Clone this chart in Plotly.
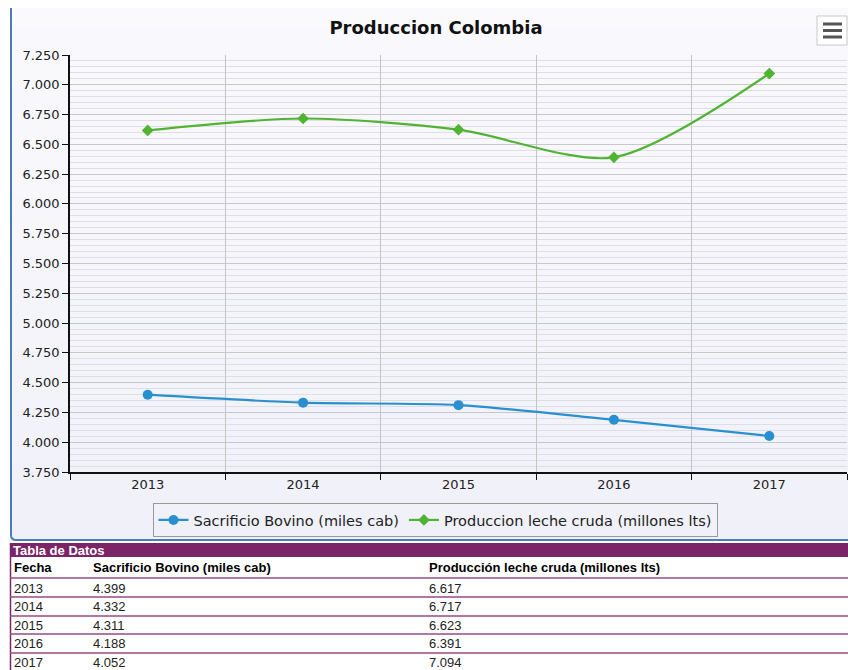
import plotly.graph_objects as go

# ---- data ----
years = ["2013", "2014", "2015", "2016", "2017"]
sacrificio = [4399, 4332, 4311, 4188, 4052]
leche = [6617, 6717, 6623, 6391, 7094]
series_names = ["Sacrificio Bovino (miles cab)", "Produccion leche cruda (millones lts)"]
table_headers = ["Fecha", "Sacrificio Bovino (miles cab)", "Producción leche cruda (millones lts)"]
title_text = "Produccion Colombia"
table_title = "Tabla de Datos"

W, H = 848, 670
L, R, T, B = 70, 847, 55, 472  # plot area in pixels

def px(x):
    return (x - L) / (R - L)

def py(y):
    return (B - y) / (B - T)

def fmt(v):
    s = f"{v:,d}"
    return s.replace(",", ".")

BLUE = "#2a8fd0"
GREEN = "#50B432"
PURPLE = "#7b2467"

fig = go.Figure()
fig.add_trace(go.Scatter(
    x=years, y=sacrificio, name=series_names[0], mode="lines+markers",
    line=dict(color=BLUE, width=2.2, shape="spline", smoothing=0.8),
    marker=dict(symbol="circle", size=10, color=BLUE)))
fig.add_trace(go.Scatter(
    x=years, y=leche, name=series_names[1], mode="lines+markers",
    line=dict(color=GREEN, width=2.2, shape="spline", smoothing=0.8),
    marker=dict(symbol="diamond", size=9, color=GREEN)))

shapes = []
# background gradient panel (bands)
top_c = (250, 250, 253)
bot_c = (240, 240, 249)
y0p, y1p = 8, 540
nb = 28
for i in range(nb):
    ya = y0p + (y1p - y0p) * i / nb
    yb = y0p + (y1p - y0p) * (i + 1) / nb
    t = (i + 0.5) / nb
    c = tuple(int(round(top_c[k] + (bot_c[k] - top_c[k]) * t)) for k in range(3))
    shapes.append(dict(type="rect", xref="paper", yref="paper",
                       x0=px(11), x1=px(848), y0=py(yb), y1=py(ya),
                       fillcolor=f"rgb{c}", line=dict(width=0), layer="below"))
# panel border (left + bottom with rounded corner)
path = (f"M {px(11)},{py(8)} L {px(11)},{py(535)} "
        f"Q {px(11)},{py(540)} {px(16)},{py(540)} L {px(848)},{py(540)}")
shapes.append(dict(type="path", xref="paper", yref="paper", path=path,
                   line=dict(color="#4a7db3", width=2), layer="above"))
# menu button
shapes.append(dict(type="rect", xref="paper", yref="paper",
                   x0=px(817), x1=px(847), y0=py(45), y1=py(16),
                   fillcolor="white", line=dict(color="#c8c8c8", width=1), layer="above"))
for yy in (24, 30.5, 37):
    shapes.append(dict(type="line", xref="paper", yref="paper",
                       x0=px(823), x1=px(842), y0=py(yy), y1=py(yy),
                       line=dict(color="#555555", width=3), layer="above"))
# table header bar
shapes.append(dict(type="rect", xref="paper", yref="paper",
                   x0=px(10), x1=px(848), y0=py(557), y1=py(543),
                   fillcolor=PURPLE, line=dict(width=0), layer="above"))
# table left border
shapes.append(dict(type="line", xref="paper", yref="paper",
                   x0=px(10.5), x1=px(10.5), y0=py(543), y1=py(670),
                   line=dict(color=PURPLE, width=1.5), layer="above"))
row_lines = [578, 597, 616, 634, 653]
for yy in row_lines:
    shapes.append(dict(type="line", xref="paper", yref="paper",
                       x0=px(10), x1=px(848), y0=py(yy), y1=py(yy),
                       line=dict(color="#9a4a8a", width=1.5), layer="above"))

TF = "Liberation Sans"
annotations = []
annotations.append(dict(text=f"<b>{table_title}</b>", xref="paper", yref="paper",
                        x=px(11), y=py(550), xanchor="left", yanchor="middle",
                        showarrow=False, font=dict(family=TF, size=13, color="white")))
col_x = [12, 91, 427]
for cx, h in zip(col_x, table_headers):
    annotations.append(dict(text=f"<b>{h}</b>", xref="paper", yref="paper",
                            x=px(cx), y=py(567.5), xanchor="left", yanchor="middle",
                            showarrow=False, font=dict(family=TF, size=13, color="black")))
row_y = [588, 606, 625, 643.5, 662]
for ry, yr, s, l in zip(row_y, years, sacrificio, leche):
    for cx, txt in zip(col_x, [yr, fmt(s), fmt(l)]):
        annotations.append(dict(text=txt, xref="paper", yref="paper",
                                x=px(cx), y=py(ry), xanchor="left", yanchor="middle",
                                showarrow=False, font=dict(family=TF, size=13, color="#222")))

fig.update_layout(
    width=W, height=H,
    margin=dict(l=L, r=W - R, t=T, b=H - B, pad=0),
    paper_bgcolor="white", plot_bgcolor="rgba(0,0,0,0)",
    separators=",.",
    font=dict(family="DejaVu Sans", size=13, color="#222"),
    title=dict(text=f"<b>{title_text}</b>", x=px(436), xref="paper", xanchor="center",
               y=1 - 28 / H, yanchor="middle",
               font=dict(family="DejaVu Sans", size=18, color="#111")),
    showlegend=True,
    legend=dict(orientation="h", x=px(435), xanchor="center", y=py(520), yanchor="middle",
                bgcolor="rgba(0,0,0,0)", bordercolor="#999999", borderwidth=1,
                font=dict(family="DejaVu Sans", size=14.5, color="#222"), itemwidth=30),
    xaxis=dict(type="category", range=[-0.5, 4.5], tickson="boundaries",
               showgrid=True, gridcolor="#c4c4c4", gridwidth=1,
               showline=True, linecolor="#111", linewidth=1.5,
               ticks="outside", ticklen=6, tickcolor="#111",
               tickfont=dict(size=13, color="#222"), zeroline=False, fixedrange=True),
    yaxis=dict(range=[3750, 7250], dtick=250, tick0=3750, tickformat=",d",
               showgrid=True, gridcolor="#c8c8c8", gridwidth=1,
               showline=True, linecolor="#111", linewidth=1.5,
               ticks="outside", ticklen=6, tickcolor="#111",
               minor=dict(dtick=50, showgrid=True, gridcolor="#dedee4", gridwidth=1, ticks=""),
               tickfont=dict(size=13, color="#222"), zeroline=False, fixedrange=True),
    shapes=shapes, annotations=annotations,
)

fig.write_html("out.html", config={"displayModeBar": False},
               post_script="document.body.style.margin='0px';document.body.style.overflow='hidden';")
